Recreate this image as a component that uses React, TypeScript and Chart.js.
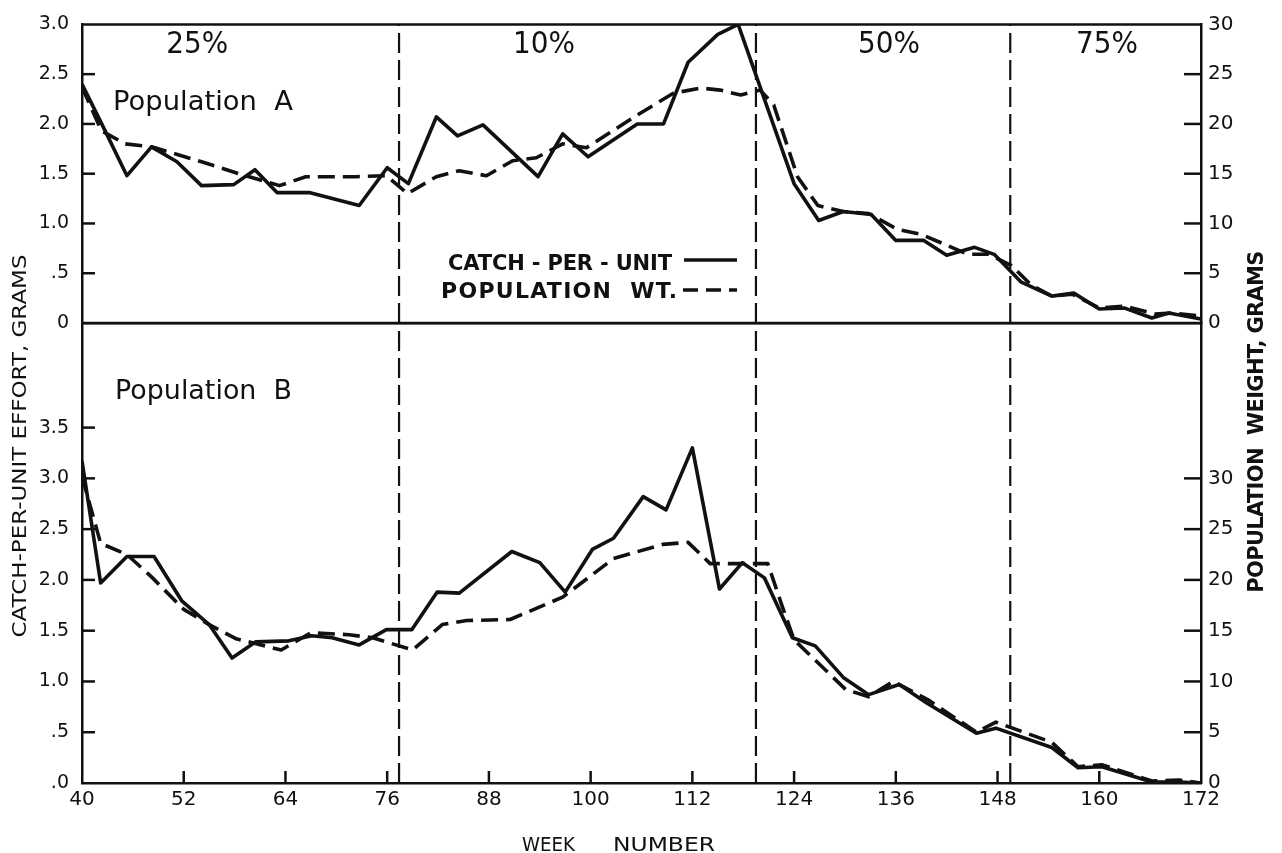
import React, { useEffect, useRef } from 'react';
import { Chart, registerables } from 'chart.js';

Chart.register(...registerables);

const W = 1282;
const H = 853;
const FONT = '"DejaVu Sans", Verdana, sans-serif';
const INK = '#111';

// ---------- x axis ----------
const weekTicks = [40, 52, 64, 76, 88, 100, 112, 124, 136, 148, 160, 172];
const phaseBoundaries = [77.4, 119.5, 149.5];
const phaseLabels = ['25%', '10%', '50%', '75%'];

// ---------- y axes tick values / labels ----------
const catchTicksA = [0, 0.5, 1.0, 1.5, 2.0, 2.5, 3.0];
const catchTickLabelsA = ['0', '.5', '1.0', '1.5', '2.0', '2.5', '3.0'];
const catchTicksB = [0, 0.5, 1.0, 1.5, 2.0, 2.5, 3.0, 3.5];
const catchTickLabelsB = ['.0', '.5', '1.0', '1.5', '2.0', '2.5', '3.0', '3.5'];
const weightTicks = [0, 5, 10, 15, 20, 25, 30];
const weightTickLabels = ['0', '5', '10', '15', '20', '25', '30'];

// ---------- Population A ----------
const catchWeeksA = [40, 42.5, 45.3, 48.2, 51.2, 54.1, 57.9, 60.4, 63.0, 66.8, 72.7, 76.0, 78.5, 81.8, 84.3, 87.3, 93.8, 96.7, 99.7, 105.5, 108.6, 111.5, 115.0, 117.4, 124.0, 126.9, 129.8, 133.1, 136.0, 139.3, 142.0, 145.3, 147.6, 150.8, 154.4, 157.0, 160.0, 163.0, 166.2, 168.2, 172];
const catchA = [2.40, 1.97, 1.48, 1.77, 1.62, 1.38, 1.39, 1.54, 1.31, 1.31, 1.18, 1.56, 1.40, 2.07, 1.88, 1.99, 1.47, 1.90, 1.67, 2.00, 2.00, 2.62, 2.90, 3.00, 1.40, 1.03, 1.12, 1.09, 0.83, 0.83, 0.68, 0.76, 0.69, 0.41, 0.27, 0.30, 0.14, 0.15, 0.05, 0.10, 0.04];
const popWeeksA = [40, 42.3, 45.1, 48.2, 54.1, 58.5, 63.3, 66.4, 72.3, 75.9, 78.4, 81.8, 84.5, 87.7, 90.8, 93.6, 96.7, 99.5, 105.5, 109.8, 113.0, 115.3, 117.7, 120.0, 121.6, 124.4, 126.8, 129.8, 132.8, 136.2, 139.0, 142.6, 144.5, 146.9, 149.6, 152.0, 154.4, 156.8, 160.0, 163.0, 166.6, 168.6, 172];
const popA = [23.7, 19.3, 18.0, 17.7, 16.2, 15.0, 13.8, 14.7, 14.7, 14.8, 13.0, 14.7, 15.3, 14.8, 16.3, 16.6, 18.0, 17.6, 20.9, 23.1, 23.6, 23.4, 22.9, 23.4, 21.9, 14.7, 11.8, 11.2, 11.0, 9.4, 8.9, 7.6, 6.9, 6.9, 5.8, 3.8, 2.7, 2.9, 1.5, 1.7, 0.9, 1.0, 0.7];

// ---------- Population B ----------
const catchWeeksB = [40, 42.2, 45.3, 48.5, 51.8, 55.0, 57.7, 60.5, 64.4, 67.1, 69.5, 72.7, 75.9, 78.9, 81.9, 84.5, 90.7, 94.0, 97.0, 100.2, 102.7, 106.2, 108.9, 112.0, 115.2, 117.9, 120.5, 123.8, 126.5, 129.8, 132.8, 136.4, 139.6, 145.5, 147.8, 154.4, 157.5, 160.3, 166.2, 169.4, 172];
const catchB = [3.17, 1.97, 2.23, 2.23, 1.79, 1.56, 1.23, 1.39, 1.40, 1.45, 1.43, 1.36, 1.51, 1.51, 1.88, 1.87, 2.28, 2.17, 1.88, 2.30, 2.41, 2.82, 2.69, 3.30, 1.91, 2.17, 2.02, 1.43, 1.35, 1.04, 0.87, 0.97, 0.79, 0.49, 0.54, 0.35, 0.15, 0.16, 0.01, 0.01, 0.0];
const popWeeksB = [40, 42.2, 45.3, 48.2, 52.0, 55.0, 58.2, 63.5, 67.0, 71.5, 74.3, 79.0, 82.5, 85.4, 90.5, 96.7, 102.7, 108.5, 111.5, 114.1, 120.9, 122.6, 124.0, 130.1, 132.8, 135.7, 139.8, 145.5, 147.8, 154.4, 157.5, 160.3, 166.2, 169.4, 172];
const popB = [30.2, 23.6, 22.5, 20.3, 17.1, 15.6, 14.2, 13.1, 14.8, 14.6, 14.3, 13.1, 15.6, 16.0, 16.1, 18.3, 22.1, 23.5, 23.7, 21.6, 21.6, 17.4, 14.1, 9.2, 8.5, 10.0, 8.2, 5.0, 6.0, 4.0, 1.6, 1.8, 0.2, 0.3, 0.0];

// ---------- layout (styling only) ----------
const LEFT_W = 82;
const RIGHT_W = 81;
const TOP_A = 17;
const MID_Y = 323;
const BOTTOM_B = 783;
const CATCH_MAX_B = 4.53;
const phaseLabelWeeks = [53.6, 94.5, 135.2, 160.9];

const pts = (xs: number[], ys: number[]) => xs.map((x, i) => ({ x, y: ys[i] }));

function strokeLine(ctx: CanvasRenderingContext2D, x1: number, y1: number, x2: number, y2: number, w: number, dash: number[] = []) {
  ctx.save();
  ctx.strokeStyle = INK;
  ctx.lineWidth = w;
  ctx.setLineDash(dash);
  ctx.beginPath();
  ctx.moveTo(x1, y1);
  ctx.lineTo(x2, y2);
  ctx.stroke();
  ctx.restore();
}

function drawText(ctx: CanvasRenderingContext2D, s: string, x: number, y: number, size: number,
  o: { bold?: boolean; align?: CanvasTextAlign; width?: number; spaced?: boolean; rotate?: boolean; baseline?: CanvasTextBaseline } = {}) {
  ctx.save();
  ctx.font = `${o.bold ? 'bold ' : ''}${size}px ${FONT}`;
  ctx.fillStyle = INK;
  ctx.textBaseline = o.baseline || 'alphabetic';
  ctx.textAlign = o.align || 'center';
  ctx.translate(x, y);
  if (o.rotate) ctx.rotate(-Math.PI / 2);
  if (o.width) {
    const w = ctx.measureText(s).width;
    if (o.spaced) {
      const sp = (o.width - w) / Math.max(1, s.length - 1);
      (ctx as any).letterSpacing = `${sp}px`;
      if (ctx.textAlign === 'right') ctx.translate(sp, 0);
    } else {
      ctx.scale(o.width / w, 1);
    }
  }
  ctx.fillText(s, 0, 0);
  ctx.restore();
}

function inwardTicks(chart: any, id: string, len: number, side: 'left' | 'right' | 'bottom') {
  const s = chart.scales[id];
  const a = chart.chartArea;
  const ctx = chart.ctx as CanvasRenderingContext2D;
  for (const t of s.ticks) {
    const v = t.value;
    if (v <= s.min + 1e-9 || v >= s.max - 1e-9) continue;
    const p = s.getPixelForValue(v);
    if (side === 'left') strokeLine(ctx, a.left, p, a.left + len, p, 2.5);
    else if (side === 'right') strokeLine(ctx, a.right - len, p, a.right, p, 2.5);
    else strokeLine(ctx, p, a.bottom, p, a.bottom - len, 2.5);
  }
}

function yAxis(pos: 'left' | 'right', max: number, values: number[], labels: string[], width: number, padding: number, fontSize: number) {
  return {
    type: 'linear',
    position: pos,
    min: 0,
    max,
    afterBuildTicks: (s: any) => { s.ticks = values.map((v) => ({ value: v })); },
    ticks: {
      padding,
      color: INK,
      font: { family: FONT, size: fontSize },
      callback: (_v: any, i: number) => labels[i],
    },
    grid: { display: false, drawTicks: false },
    border: { display: true, color: INK, width: 2.5 },
    afterFit: (s: any) => { s.width = width; },
  };
}

function lineDs(data: any[], axis: string, dashed: boolean) {
  return {
    type: 'line',
    data,
    yAxisID: axis,
    borderColor: INK,
    borderWidth: 3.6,
    borderDash: dashed ? [17, 8] : [],
    borderJoinStyle: 'round',
    pointRadius: 0,
    tension: 0,
    fill: false,
  };
}

function dividerDs(week: number, top: number) {
  return {
    type: 'line',
    data: [{ x: week, y: 0 }, { x: week, y: top }],
    yAxisID: 'y',
    borderColor: INK,
    borderWidth: 2.2,
    borderDash: [20, 7],
    pointRadius: 0,
    fill: false,
  };
}

const topDecor = {
  id: 'topDecor',
  afterDraw(chart: any) {
    const ctx = chart.ctx as CanvasRenderingContext2D;
    const a = chart.chartArea;
    const xs = chart.scales.x;
    strokeLine(ctx, a.left, a.top, a.right, a.top, 2.5);
    inwardTicks(chart, 'y', 13, 'left');
    inwardTicks(chart, 'y2', 17, 'right');
    phaseLabels.forEach((s, i) => drawText(ctx, s, xs.getPixelForValue(phaseLabelWeeks[i]), 53, 31, { width: 62 }));
    drawText(ctx, 'Population  A', 113, 110, 27, { align: 'left', width: 180 });
    drawText(ctx, 'CATCH - PER - UNIT', 672, 270, 21, { align: 'right', width: 224, bold: true, spaced: true });
    drawText(ctx, 'POPULATION  WT.', 677, 298, 22, { align: 'right', width: 236, bold: true, spaced: true });
    strokeLine(ctx, 684, 260, 737, 260, 3.6);
    strokeLine(ctx, 683, 290, 737, 290, 3.6, [15, 8]);
  },
};

const bottomDecor = {
  id: 'bottomDecor',
  afterDraw(chart: any) {
    const ctx = chart.ctx as CanvasRenderingContext2D;
    const a = chart.chartArea;
    strokeLine(ctx, a.left, a.top, a.right, a.top, 2.5);
    inwardTicks(chart, 'y', 13, 'left');
    inwardTicks(chart, 'y2', 17, 'right');
    inwardTicks(chart, 'x', 12, 'bottom');
    drawText(ctx, 'Population  B', 115, 399, 27, { align: 'left', width: 177 });
    drawText(ctx, 'CATCH-PER-UNIT EFFORT, GRAMS', 21, 446, 20, { rotate: true, width: 383, baseline: 'middle' });
    drawText(ctx, 'POPULATION  WEIGHT, GRAMS', 1258, 422, 21, { rotate: true, width: 342, bold: true, baseline: 'middle', spaced: true });
    drawText(ctx, 'WEEK', 522, 851, 19, { align: 'left', width: 53 });
    drawText(ctx, 'NUMBER', 613, 851, 19, { align: 'left', width: 102 });
  },
};

function makeConfig(panel: 'A' | 'B'): any {
  const isA = panel === 'A';
  const catchMax = isA ? 3 : CATCH_MAX_B;
  const datasets: any[] = [
    lineDs(pts(isA ? catchWeeksA : catchWeeksB, isA ? catchA : catchB), 'y', false),
    lineDs(pts(isA ? popWeeksA : popWeeksB, isA ? popA : popB), 'y2', true),
    ...phaseBoundaries.map((b) => dividerDs(b, catchMax)),
  ];
  return {
    type: 'line',
    data: { datasets },
    plugins: [isA ? topDecor : bottomDecor],
    options: {
      responsive: false,
      animation: false,
      events: [],
      layout: {
        padding: isA
          ? { top: TOP_A, bottom: H - MID_Y, left: 0, right: 0 }
          : { top: MID_Y, bottom: 0, left: 0, right: 0 },
      },
      plugins: { legend: { display: false }, tooltip: { enabled: false }, title: { display: false } },
      scales: {
        x: {
          type: 'linear',
          min: 40,
          max: 172,
          afterBuildTicks: (s: any) => { s.ticks = weekTicks.map((v) => ({ value: v })); },
          ticks: {
            display: !isA,
            padding: 5,
            color: INK,
            font: { family: FONT, size: 20 },
            maxRotation: 0,
            autoSkip: false,
            callback: (_v: any, i: number) => String(weekTicks[i]),
          },
          grid: { display: false, drawTicks: false },
          border: { display: true, color: INK, width: 2.5 },
          afterFit: (s: any) => { s.height = isA ? 0 : H - BOTTOM_B; },
        },
        y: yAxis('left', catchMax, isA ? catchTicksA : catchTicksB, isA ? catchTickLabelsA : catchTickLabelsB, LEFT_W, 13, 19),
        y2: yAxis('right', catchMax * 10, weightTicks, weightTickLabels, RIGHT_W, 7, 20),
      },
    },
  };
}

export default function App() {
  const topRef = useRef<HTMLCanvasElement>(null);
  const botRef = useRef<HTMLCanvasElement>(null);
  useEffect(() => {
    const c2 = new Chart(botRef.current as HTMLCanvasElement, makeConfig('B'));
    const c1 = new Chart(topRef.current as HTMLCanvasElement, makeConfig('A'));
    return () => {
      c1.destroy();
      c2.destroy();
    };
  }, []);
  return (
    <div style={{ position: 'absolute', left: 0, top: 0, width: W, height: H, background: '#fff', overflow: 'hidden' }}>
      <canvas ref={botRef} width={W} height={H} style={{ position: 'absolute', left: 0, top: 0 }} />
      <canvas ref={topRef} width={W} height={H} style={{ position: 'absolute', left: 0, top: 0 }} />
    </div>
  );
}
